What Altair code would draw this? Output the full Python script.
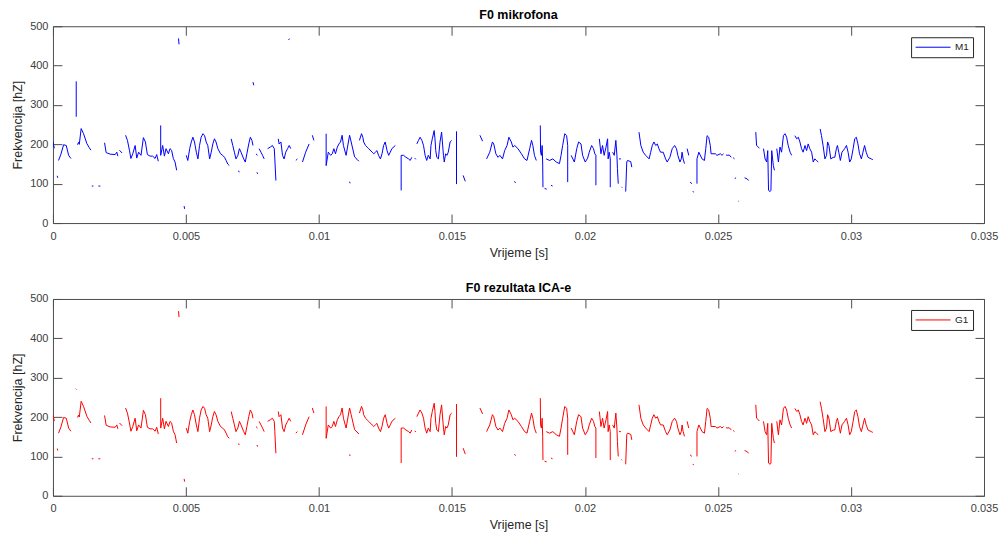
import altair as alt
import pandas as pd

# ---- time [ms], F0 [Hz] pairs per voiced fragment ----
s01 = [(0.0, 207), (0.05, 190)]
s02 = [(0.21, 159), (0.3, 175), (0.4, 199), (0.5, 197), (0.59, 172), (0.675, 164)]
s03 = [(0.16, 120), (0.18, 115)]
s04 = [(0.925, 199), (0.96, 205), (0.99, 200), (1.06, 240), (1.15, 227), (1.275, 202), (1.36, 192), (1.425, 185)]
s05 = [(1.46, 94), (1.52, 94)]
s06 = [(1.71, 94), (1.78, 94)]
s07 = [(1.94, 204), (2.0, 179), (2.15, 175), (2.34, 174), (2.4, 180), (2.44, 170)]
s08 = [(2.5, 185), (2.6, 178)]
s09 = [(2.73, 223), (2.8, 210), (2.875, 185), (2.93, 164), (3.0, 176), (3.09, 197), (3.15, 165), (3.22, 180),
       (3.31, 172), (3.4, 217), (3.475, 206), (3.55, 174), (3.65, 170), (3.75, 170), (3.84, 164), (3.9, 174), (3.96, 157)]
s10 = [(4.05, 248), (4.05, 172), (4.125, 197), (4.19, 170), (4.25, 189), (4.34, 176), (4.4, 189), (4.46, 185),
       (4.525, 164), (4.59, 155), (4.65, 134)]
s11 = [(4.72, 469), (4.74, 454)]
s12 = [(4.93, 43), (4.95, 36)]
s13 = [(5.01, 172), (5.07, 159), (5.14, 189), (5.2, 206), (5.26, 218), (5.32, 206), (5.39, 180), (5.45, 163),
       (5.51, 197), (5.57, 218), (5.64, 227), (5.7, 222), (5.76, 206), (5.82, 197), (5.89, 163), (5.95, 180),
       (6.01, 201), (6.07, 214), (6.13, 206), (6.2, 189), (6.3, 176), (6.38, 172), (6.45, 167), (6.51, 159),
       (6.57, 150), (6.63, 146)]
s14 = [(6.7, 214), (6.76, 197), (6.82, 180), (6.88, 163), (6.95, 172), (7.01, 189), (7.07, 180), (7.17, 163),
       (7.23, 155), (7.29, 176), (7.36, 201), (7.42, 218), (7.48, 210), (7.52, 197)]
s15 = [(6.98, 133), (7.0, 129)]
s16 = [(7.63, 176), (7.69, 172)]
s17 = [(7.67, 129), (7.69, 125)]
s18 = [(7.75, 189), (7.82, 180), (7.88, 172), (7.94, 163)]
s19 = [(8.07, 189), (8.17, 193), (8.25, 197), (8.32, 189), (8.34, 163), (8.38, 108)]
s20 = [(8.47, 214), (8.5, 201), (8.57, 206), (8.63, 172), (8.69, 163), (8.75, 180), (8.82, 189), (8.88, 197), (8.94, 189)]
s21 = [(9.13, 159), (9.19, 163)]
s22 = [(9.38, 155), (9.5, 180), (9.63, 201)]
s23 = [(9.75, 223), (9.81, 210)]
s24 = [(10.27, 227), (10.27, 146), (10.35, 180), (10.44, 172), (10.5, 176), (10.56, 189), (10.62, 176),
       (10.69, 193), (10.75, 201), (10.81, 206), (10.87, 223), (10.92, 197), (11.02, 172), (11.15, 223),
       (11.21, 206), (11.34, 168), (11.43, 162), (11.5, 157)]
s25 = [(11.15, 105), (11.17, 101)]
s26 = [(11.52, 210), (11.6, 227), (11.65, 218), (11.68, 206), (11.75, 197), (11.81, 193), (11.87, 189),
       (12.0, 180), (12.06, 176), (12.12, 180), (12.18, 184), (12.24, 172), (12.31, 163), (12.37, 176),
       (12.43, 197), (12.49, 206), (12.56, 184), (12.62, 172), (12.68, 180), (12.74, 189), (12.87, 197)]
s27 = [(13.09, 83), (13.09, 172), (13.18, 172), (13.27, 167), (13.37, 163), (13.43, 159), (13.49, 167)]
s28 = [(13.6, 165), (13.64, 162)]
s29 = [(13.68, 201), (13.74, 210), (13.8, 218), (13.87, 210), (13.93, 197), (13.99, 172), (14.05, 159),
       (14.11, 172), (14.18, 163), (14.21, 197), (14.26, 214), (14.33, 235), (14.36, 214), (14.39, 184),
       (14.43, 167), (14.49, 163), (14.55, 206), (14.61, 231), (14.68, 172), (14.71, 155), (14.76, 176),
       (14.81, 172), (14.86, 180), (14.93, 206), (14.99, 210)]
s30 = [(15.17, 233), (15.17, 99)]
s31 = [(15.42, 121), (15.5, 106)]
s32 = [(16.05, 223), (16.15, 208)]
s33 = [(16.3, 163), (16.42, 180), (16.52, 206), (16.57, 201), (16.65, 176), (16.73, 167), (16.8, 172),
       (16.9, 163), (16.98, 184), (17.07, 197), (17.14, 218), (17.23, 206), (17.29, 193), (17.36, 197),
       (17.48, 189), (17.61, 176), (17.73, 163), (17.82, 159), (17.92, 189), (17.99, 210), (18.04, 197),
       (18.1, 172), (18.17, 159)]
s34 = [(17.35, 106), (17.39, 102)]
s35 = [(18.32, 248), (18.33, 180), (18.36, 172), (18.39, 197), (18.41, 150), (18.42, 91)]
s36 = [(18.48, 88), (18.56, 86)]
s37 = [(18.72, 96), (18.78, 94)]
s38 = [(18.54, 163), (18.67, 159), (18.79, 163), (18.92, 155), (19.04, 151), (19.1, 172), (19.16, 197),
       (19.24, 227), (19.31, 222), (19.35, 197), (19.35, 104)]
s39 = [(19.48, 172), (19.6, 155), (19.69, 189), (19.76, 206), (19.85, 201), (19.91, 172), (20.01, 155),
       (20.1, 165), (20.16, 180), (20.25, 197), (20.32, 189), (20.37, 176), (20.41, 172), (20.41, 96)]
s40 = [(20.54, 214), (20.6, 176), (20.66, 197), (20.72, 172), (20.79, 193), (20.85, 214), (20.87, 163),
       (20.91, 180), (20.95, 163), (20.95, 91)]
s41 = [(21.04, 180), (21.1, 172), (21.16, 210), (21.2, 172), (21.22, 138), (21.25, 100)]
s42 = [(21.28, 163), (21.35, 163)]
s43 = [(21.37, 92), (21.4, 90)]
s44 = [(21.53, 80), (21.57, 155), (21.6, 159), (21.72, 156), (21.76, 142)]
s45 = [(22.03, 231), (22.1, 197), (22.19, 180), (22.28, 172), (22.41, 163), (22.47, 180), (22.53, 197),
       (22.59, 206), (22.66, 197), (22.72, 201), (22.78, 189), (22.84, 180), (22.94, 180), (23.03, 163),
       (23.09, 155), (23.19, 167), (23.28, 189), (23.37, 197), (23.44, 189), (23.49, 172), (23.57, 155),
       (23.62, 163), (23.65, 180), (23.69, 163), (23.74, 151)]
s46 = [(23.84, 189), (23.9, 172)]
s47 = [(23.95, 104), (24.02, 100)]
s48 = [(24.06, 81), (24.08, 78)]
s49 = [(24.21, 100), (24.21, 163), (24.28, 180), (24.4, 163), (24.49, 159), (24.54, 189), (24.59, 222),
       (24.65, 218), (24.71, 197), (24.74, 176), (24.9, 176), (24.96, 172), (25.09, 176), (25.15, 172), (25.21, 176)]
s50 = [(25.3, 173), (25.37, 172), (25.42, 173), (25.5, 167)]
s51 = [(25.57, 166), (25.62, 163)]
s52 = [(25.63, 113), (25.68, 115)]
s53 = [(25.76, 56), (25.78, 55)]
s54 = [(26.0, 115), (26.1, 112), (26.15, 108)]
s55 = [(26.42, 231), (26.45, 197), (26.52, 193), (26.55, 190)]
s56 = [(26.71, 189), (26.77, 163), (26.83, 155), (26.87, 184), (26.9, 83), (26.96, 80), (26.99, 83),
       (27.02, 184), (27.08, 146), (27.12, 134)]
s57 = [(27.21, 189), (27.27, 155), (27.33, 193), (27.39, 180), (27.46, 222), (27.52, 227), (27.58, 218),
       (27.64, 197), (27.71, 180), (27.77, 172)]
s58 = [(27.89, 222), (27.96, 214), (28.02, 218), (28.08, 206), (28.14, 189), (28.2, 180), (28.27, 197),
       (28.33, 184), (28.39, 201), (28.45, 189), (28.52, 180), (28.58, 155), (28.64, 163), (28.7, 159), (28.77, 155)]
s59 = [(28.84, 239), (28.89, 222), (28.95, 197), (29.02, 163), (29.08, 172), (29.12, 206), (29.17, 197),
       (29.24, 163), (29.33, 167), (29.39, 167), (29.45, 189), (29.49, 197), (29.54, 180), (29.6, 159),
       (29.66, 180), (29.76, 189), (29.83, 197), (29.89, 180), (29.95, 155), (30.01, 163), (30.08, 189),
       (30.14, 214), (30.2, 218), (30.26, 201), (30.32, 176), (30.39, 163), (30.45, 180), (30.51, 197),
       (30.57, 180), (30.64, 167), (30.76, 163), (30.82, 161)]

# fragments that appear only in one of the two tracks
mic_only = [
    [(0.875, 360), (0.875, 270)],
    [(7.52, 358), (7.55, 350)],
    [(8.85, 466), (8.9, 468)],
]
ica_only = [
    [(0.86, 272), (0.89, 270)],
]

common = [s01, s02, s03, s04, s05, s06, s07, s08, s09, s10, s11, s12, s13, s14, s15, s16, s17, s18, s19, s20,
          s21, s22, s23, s24, s25, s26, s27, s28, s29, s30, s31, s32, s33, s34, s35, s36, s37, s38, s39, s40,
          s41, s42, s43, s44, s45, s46, s47, s48, s49, s50, s51, s52, s53, s54, s55, s56, s57, s58, s59]

x_ticks = [0, 0.005, 0.01, 0.015, 0.02, 0.025, 0.03, 0.035]
y_ticks = [0, 100, 200, 300, 400, 500]

FONT = "Liberation Sans"
TICK = 9


def table(segs, label):
    rows = []
    for k, seg in enumerate(segs):
        for i, (t, f) in enumerate(seg):
            rows.append({"t": t / 1000.0, "f": f, "seg": k, "i": i, "series": label})
    return pd.DataFrame(rows)


def panel(segs, label, color, title):
    df = table(segs, label)
    xs = alt.Scale(domain=[0, 0.035], nice=False, zero=False)
    ys = alt.Scale(domain=[0, 500], nice=False, zero=False)
    lines = alt.Chart(df).mark_line(strokeWidth=1, clip=True).encode(
        x=alt.X("t:Q", scale=xs, axis=alt.Axis(
            values=x_ticks, format="~g", title="Vrijeme [s]", domain=False, labelFlush=False,
            offset=-TICK, tickSize=TICK, labelPadding=7, titlePadding=5)),
        y=alt.Y("f:Q", scale=ys, axis=alt.Axis(
            values=y_ticks, title="Frekvencija [hZ]", domain=False, labelFlush=False,
            offset=-TICK, tickSize=TICK, labelPadding=5, titlePadding=5)),
        detail="seg:N",
        order="i:Q",
        color=alt.Color("series:N", scale=alt.Scale(domain=[label], range=[color]),
                        legend=alt.Legend(title=None, orient="none", legendX=859, legendY=11,
                                          symbolType="stroke", symbolSize=1225, symbolStrokeWidth=1,
                                          clipHeight=12,
                                          labelFontSize=10, labelFont=FONT, labelColor="#262626",
                                          padding=4, strokeColor="#262626", fillColor="white",
                                          cornerRadius=0)),
    )
    frame = alt.Chart(df).mark_line(opacity=0).encode(
        x=alt.X("t:Q", scale=xs, axis=alt.Axis(
            orient="top", values=x_ticks, labels=False, title=None, domain=False,
            offset=-TICK, tickSize=TICK)),
        y=alt.Y("f:Q", scale=ys, axis=alt.Axis(
            orient="right", values=y_ticks, labels=False, title=None, domain=False,
            offset=-TICK, tickSize=TICK)),
        detail="seg:N",
        order="i:Q",
    )
    return alt.layer(lines, frame).resolve_axis(x="independent", y="independent").properties(
        width=932, height=197,
        title=alt.TitleParams(title, fontSize=12.5, fontWeight="bold", font=FONT, color="#000000", offset=-1.5),
    )


top = panel(common + mic_only, "M1", "#0000ff", "F0 mikrofona")
bottom = panel(common + ica_only, "G1", "#ff0000", "F0 rezultata ICA-e")

chart = alt.vconcat(top, bottom, spacing=22).resolve_scale(color="independent").properties(
    padding={"left": 3, "top": 0, "right": 0, "bottom": 5}
).configure_view(stroke="#4d4d4d", strokeWidth=1).configure_axis(
    labelFont=FONT, labelFontSize=11, labelColor="#404040", tickColor="#4d4d4d",
    titleFont=FONT, titleFontSize=12.5, titleFontWeight="normal", titleColor="#262626", grid=False,
)

chart.save("out.html", embed_options={"renderer": "svg", "actions": False})
